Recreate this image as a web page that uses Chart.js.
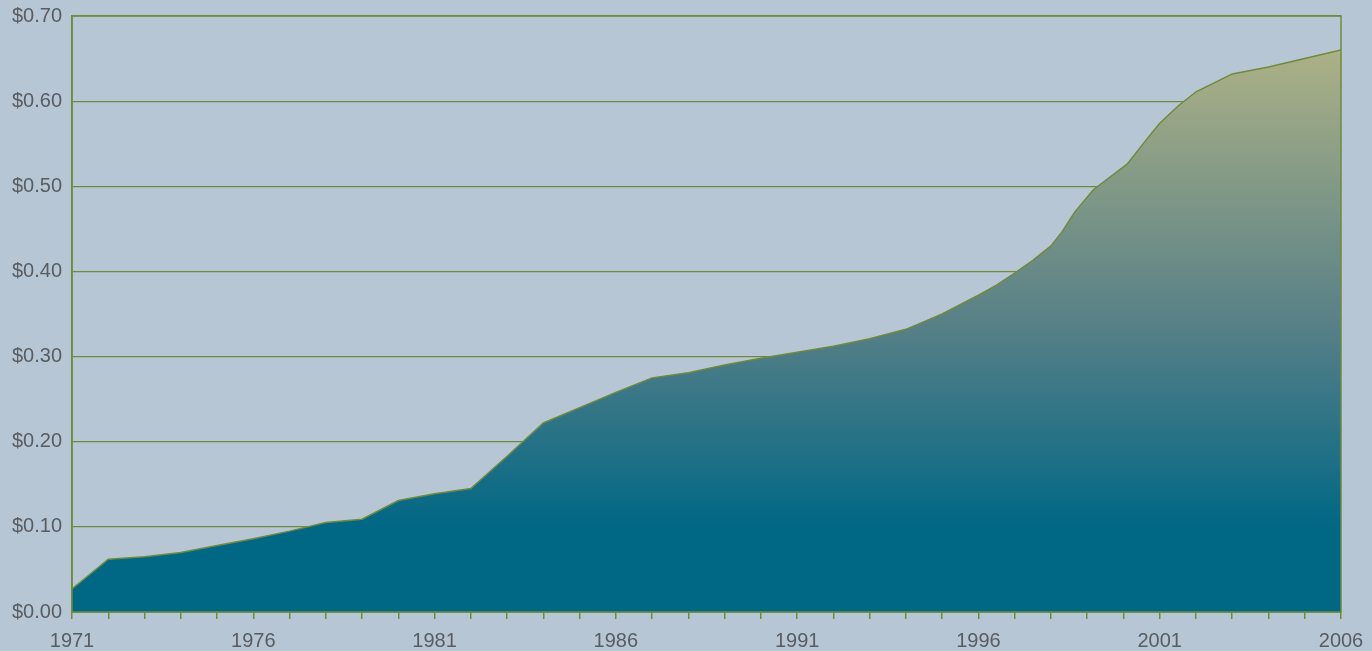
<!DOCTYPE html>
<html>
<head>
<meta charset="utf-8">
<script src="https://cdn.jsdelivr.net/npm/chart.js@4"></script>
<style>
  html, body { margin: 0; padding: 0; background: #b7c6d5; }
  #wrap { width: 1372px; height: 651px; }
</style>
</head>
<body>
<div id="wrap"><canvas id="myChart" width="1372" height="651"></canvas></div>
<script>
// points along the curve (a few in-between ones where the line bends)
const years = [1971, 1972, 1973, 1974, 1975, 1976, 1977, 1978, 1979, 1980,
  1981, 1982, 1983, 1984, 1985, 1986, 1987, 1988, 1989, 1990,
  1991, 1992, 1993, 1994, 1995, 1996, 1996.5, 1997, 1997.5, 1998,
  1998.3, 1998.66, 1999.17, 2000.1, 2000.6, 2001, 2001.5, 2002, 2003, 2004,
  2005, 2006];
const prices = [0.027, 0.062, 0.065, 0.070, 0.078, 0.086, 0.095, 0.105, 0.109, 0.131,
  0.139, 0.145, 0.183, 0.222, 0.240, 0.258, 0.275, 0.281, 0.290, 0.298,
  0.305, 0.312, 0.321, 0.332, 0.350, 0.372, 0.384, 0.398, 0.413, 0.430,
  0.446, 0.470, 0.496, 0.526, 0.553, 0.574, 0.594, 0.611, 0.632, 0.640,
  0.650, 0.660];
const tickYears = [1971, 1972, 1973, 1974, 1975, 1976, 1977, 1978, 1979, 1980,
  1981, 1982, 1983, 1984, 1985, 1986, 1987, 1988, 1989, 1990,
  1991, 1992, 1993, 1994, 1995, 1996, 1997, 1998, 1999, 2000,
  2001, 2002, 2003, 2004, 2005, 2006];
const labelYears = [1971, 1976, 1981, 1986, 1991, 1996, 2001, 2006];
const yTicks = [0, 0.1, 0.2, 0.3, 0.4, 0.5, 0.6, 0.7];

const olive = '#6f8a3c';
const textGrey = '#595c60';

document.addEventListener('DOMContentLoaded', function () {
  const ctx = document.getElementById('myChart').getContext('2d');

  function areaFill(context) {
    const chart = context.chart;
    const area = chart.chartArea;
    if (!area) return '#006785';
    const y = chart.scales.y;
    const top = y.getPixelForValue(Math.max(...prices));
    const bottom = y.getPixelForValue(0);
    const g = chart.ctx.createLinearGradient(0, bottom, 0, top);
    g.addColorStop(0, '#006785');
    g.addColorStop(0.15, '#006785');
    g.addColorStop(0.5, '#557f87');
    g.addColorStop(1, '#acb186');
    return g;
  }

  const frame = {
    id: 'frame',
    afterDatasetsDraw(chart) {
      const a = chart.chartArea;
      const c = chart.ctx;
      c.save();
      c.strokeStyle = olive;
      c.lineWidth = 1.5;
      c.strokeRect(a.left, a.top, a.right - a.left, a.bottom - a.top);
      c.restore();
    }
  };

  new Chart(ctx, {
    type: 'line',
    data: {
      datasets: [{
        data: years.map((yr, i) => ({ x: yr, y: prices[i] })),
        fill: 'origin',
        backgroundColor: areaFill,
        borderColor: olive,
        borderWidth: 1.5,
        pointRadius: 0,
        tension: 0,
      }],
    },
    options: {
      responsive: false,
      animation: false,
      layout: { padding: { top: 16, right: 31, left: 0, bottom: 0 } },
      plugins: { legend: { display: false }, tooltip: { enabled: false } },
      scales: {
        x: {
          type: 'linear',
          min: 1971,
          max: 2006,
          afterBuildTicks(scale) {
            scale.ticks = tickYears.map(v => ({ value: v }));
          },
          afterFit(scale) {
            scale.height = 39;
            scale.paddingLeft = 0;
            scale.paddingRight = 0;
          },
          grid: {
            drawOnChartArea: false,
            drawTicks: true,
            tickLength: 7,
            color: olive,
            lineWidth: 1.5,
          },
          border: { color: olive, width: 1.5 },
          ticks: {
            autoSkip: false,
            maxRotation: 0,
            padding: 10,
            color: textGrey,
            font: { family: 'Liberation Sans, Arial', size: 20 },
            callback: v => labelYears.includes(v) ? String(v) : '',
          },
        },
        y: {
          min: 0,
          max: 0.7,
          afterBuildTicks(scale) {
            scale.ticks = yTicks.map(v => ({ value: v }));
          },
          afterFit(scale) {
            scale.width = 72;
            scale.paddingTop = 0;
            scale.paddingBottom = 0;
          },
          grid: {
            color: olive,
            lineWidth: 1.2,
            drawTicks: false,
          },
          border: { color: olive, width: 1.5 },
          ticks: {
            padding: 10,
            color: textGrey,
            font: { family: 'Liberation Sans, Arial', size: 20 },
            callback: v => '$' + v.toFixed(2),
          },
        },
      },
    },
    plugins: [frame],
  });
});
</script>
</body>
</html>
